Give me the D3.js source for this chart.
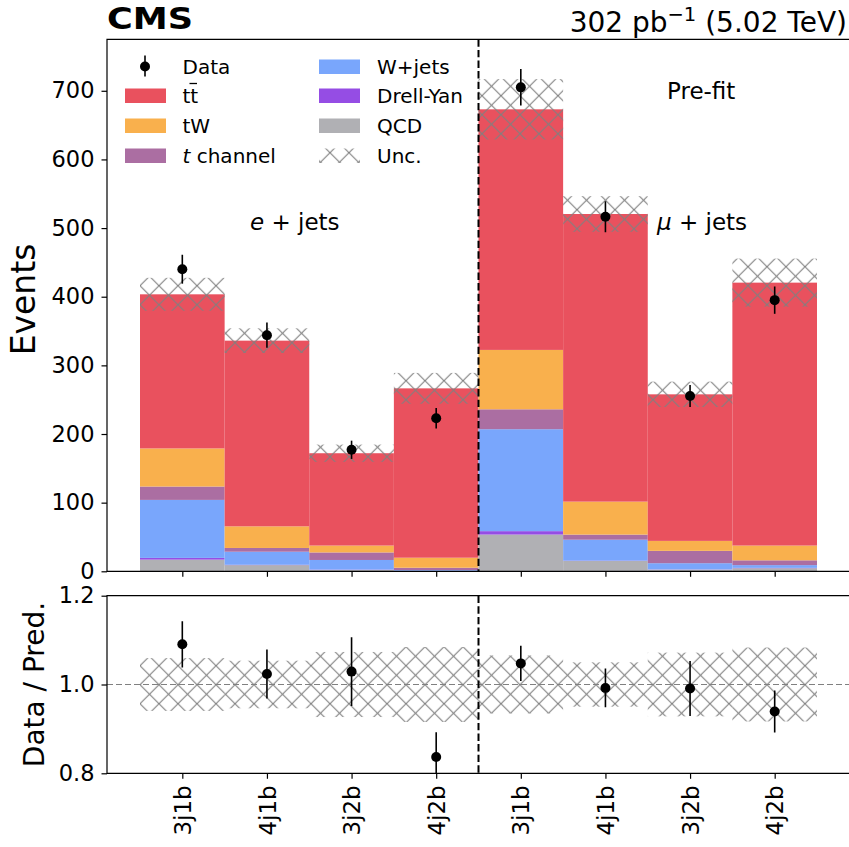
<!DOCTYPE html>
<html>
<head>
<meta charset="utf-8">
<script src="https://cdn.jsdelivr.net/npm/d3@7"></script>
<style>
  body { margin: 0; background: #fff; }
  text { font-family: "DejaVu Sans", sans-serif; fill: #000; }
</style>
</head>
<body>
<svg id="chart" width="849" height="847"></svg>
<script>
// bins (e+jets then mu+jets)
const categories = ["3j1b", "4j1b", "3j2b", "4j2b", "3j1b", "4j1b", "3j2b", "4j2b"];

// process yields, stacked bottom -> top
const qcd   = [17, 9, 2, 0.7, 53.5, 15, 2.5, 4.5];
const dy    = [2.5, 0.5, 0.5, 0.2, 5, 0.5, 0.3, 0.5];
const wjets = [84.5, 19, 14, 1, 148.5, 30.5, 9, 4];
const tchan = [19.5, 5.5, 11, 3.3, 29, 7.5, 18, 7];
const tw    = [55.5, 31.5, 10, 14.6, 86.5, 48, 14.5, 21.5];
const ttbar = [224.5, 270.5, 134.5, 246.7, 350.5, 419, 213.5, 383];

// observed data and its errors
const data    = [440, 344, 177, 223, 705, 516.5, 255.5, 395];
const dataErr = [21, 18.5, 13.3, 14.9, 26.6, 22.7, 16, 19.9];

// total prediction uncertainty (absolute)
const unc = [24, 18, 12.6, 22.5, 44, 26, 18.5, 35];

const yTicks = [0, 100, 200, 300, 400, 500, 600, 700];
const rTicks = [0.8, 1.0, 1.2];

const processes = [
  { name: "QCD",        vals: qcd,   color: "#b0b0b4" },
  { name: "Drell-Yan",  vals: dy,    color: "#954de4" },
  { name: "W+jets",     vals: wjets, color: "#79a6fc" },
  { name: "t channel",  vals: tchan, color: "#ab6ea2" },
  { name: "tW",         vals: tw,    color: "#f9b04d" },
  { name: "ttbar",      vals: ttbar, color: "#e9515e" }
];

const svg = d3.select("#chart");
const L = 107, R = 851;
const mainTop = 39.3, mainBot = 571.3;
const ratTop = 595.7, ratBot = 773.3;

const x = d3.scaleLinear().domain([0, 8]).range([140, 817]);
const y = d3.scaleLinear().domain([0, 775]).range([mainBot, mainTop]);
const yr = d3.scaleLinear().domain([0.8, 1.2]).range([ratBot, ratTop]);

// hatch pattern
const defs = svg.append("defs");
const pat = defs.append("pattern")
  .attr("id", "hatch")
  .attr("patternUnits", "userSpaceOnUse")
  .attr("width", 19).attr("height", 19)
  .attr("x", 140).attr("y", 285.7);
pat.append("path")
  .attr("d", "M0,0L19,19M0,19L19,0M-2,17L2,21M17,-2L21,2M-2,2L2,-2M17,21L21,17")
  .attr("stroke", "#808080").attr("stroke-width", 1.1).attr("fill", "none");

defs.append("clipPath").attr("id", "clipMain")
  .append("rect").attr("x", L).attr("y", mainTop).attr("width", R - L).attr("height", mainBot - mainTop);
defs.append("clipPath").attr("id", "clipRat")
  .append("rect").attr("x", L).attr("y", ratTop).attr("width", R - L).attr("height", ratBot - ratTop);

// ---------- main panel ----------
const gMain = svg.append("g").attr("clip-path", "url(#clipMain)");

const total = categories.map((c, i) => d3.sum(processes, p => p.vals[i]));

categories.forEach((c, i) => {
  let base = 0;
  processes.forEach(p => {
    const v = p.vals[i];
    gMain.append("rect")
      .attr("x", x(i)).attr("width", x(i + 1) - x(i))
      .attr("y", y(base + v)).attr("height", y(base) - y(base + v))
      .attr("fill", p.color);
    base += v;
  });
});

// uncertainty band
gMain.selectAll("rect.unc")
  .data(categories)
  .join("rect")
  .attr("class", "unc")
  .attr("x", (d, i) => x(i)).attr("width", (d, i) => x(i + 1) - x(i))
  .attr("y", (d, i) => y(total[i] + unc[i]))
  .attr("height", (d, i) => y(total[i] - unc[i]) - y(total[i] + unc[i]))
  .attr("fill", "url(#hatch)");

// data points
categories.forEach((c, i) => {
  const cx = x(i + 0.5);
  gMain.append("line")
    .attr("x1", cx).attr("x2", cx)
    .attr("y1", y(data[i] - dataErr[i])).attr("y2", y(data[i] + dataErr[i]))
    .attr("stroke", "#000").attr("stroke-width", 1.6);
  gMain.append("circle").attr("cx", cx).attr("cy", y(data[i])).attr("r", 5).attr("fill", "#000");
});

// divider
svg.append("line")
  .attr("x1", x(4)).attr("x2", x(4)).attr("y1", mainTop).attr("y2", mainBot)
  .attr("stroke", "#000").attr("stroke-width", 2).attr("stroke-dasharray", "7.4,3.2");

// frame + axes
svg.append("path")
  .attr("d", `M${R},${mainTop}H${L}V${mainBot}H${R}`)
  .attr("fill", "none").attr("stroke", "#000").attr("stroke-width", 1.2);

const yAxis = svg.append("g")
  .attr("transform", `translate(${L},0)`)
  .call(d3.axisLeft(y).tickValues(yTicks).tickSize(5.5).tickPadding(7));
yAxis.select(".domain").remove();
yAxis.selectAll("text").style("font-size", "22.5px").style("font-family", "DejaVu Sans");
yAxis.selectAll("line").attr("stroke-width", 1.2);

const xAxisMain = svg.append("g")
  .attr("transform", `translate(0,${mainBot})`)
  .call(d3.axisBottom(x).tickValues(categories.map((c, i) => i + 0.5)).tickSize(5.5).tickFormat(""));
xAxisMain.select(".domain").remove();
xAxisMain.selectAll("line").attr("stroke-width", 1.2);

// text labels
svg.append("text").attr("x", L).attr("y", 29)
  .attr("textLength", 86).attr("lengthAdjust", "spacingAndGlyphs")
  .style("font-size", "31px").style("font-weight", "bold").text("CMS");

const lumi = svg.append("text").attr("x", 847).attr("y", 31.5)
  .attr("text-anchor", "end").style("font-size", "28px");
lumi.append("tspan").text("302 pb");
lumi.append("tspan").attr("dy", -11).style("font-size", "19.5px").text("\u22121");
lumi.append("tspan").attr("dy", 11).text(" (5.02 TeV)");

svg.append("text").attr("x", 667).attr("y", 99).style("font-size", "23px").text("Pre-fit");

const eLab = svg.append("text").attr("x", 250).attr("y", 230).style("font-size", "23px");
eLab.append("tspan").style("font-style", "italic").text("e");
eLab.append("tspan").text(" + jets");
const mLab = svg.append("text").attr("x", 657).attr("y", 230).style("font-size", "23px");
mLab.append("tspan").style("font-style", "italic").text("\u03bc");
mLab.append("tspan").text(" + jets");

svg.append("text")
  .attr("transform", "translate(35,299.5) rotate(-90)")
  .attr("text-anchor", "middle").style("font-size", "33px").text("Events");

// legend
const legend = svg.append("g");
const leg1 = [
  { label: "Data", kind: "data" },
  { label: "tt", kind: "ttbar", color: "#e9515e" },
  { label: "tW", color: "#f9b04d" },
  { label: "t channel", kind: "tch", color: "#ab6ea2" }
];
const leg2 = [
  { label: "W+jets", color: "#79a6fc" },
  { label: "Drell-Yan", color: "#954de4" },
  { label: "QCD", color: "#b0b0b4" },
  { label: "Unc.", kind: "unc" }
];
const rowY = [66.5, 95.5, 125.5, 155.5];

function drawLegendCol(items, px, tx) {
  items.forEach((it, k) => {
    const cy = rowY[k];
    if (it.kind === "data") {
      legend.append("line").attr("x1", px + 20).attr("x2", px + 20)
        .attr("y1", cy - 11).attr("y2", cy + 10).attr("stroke", "#000").attr("stroke-width", 1.6);
      legend.append("circle").attr("cx", px + 20).attr("cy", cy).attr("r", 5).attr("fill", "#000");
    } else if (it.kind === "unc") {
      legend.append("rect").attr("x", px).attr("y", cy - 7).attr("width", 41).attr("height", 14.5)
        .attr("fill", "url(#hatch)");
    } else {
      legend.append("rect").attr("x", px).attr("y", cy - 7).attr("width", 41).attr("height", 14.5)
        .attr("fill", it.color);
    }
    const t = legend.append("text").attr("x", tx).attr("y", cy + 7).style("font-size", "20px");
    if (it.kind === "ttbar") {
      t.append("tspan").text("t");
      t.append("tspan").text("t");
      legend.append("line").attr("x1", tx + 7).attr("x2", tx + 14.5)
        .attr("y1", cy - 12).attr("y2", cy - 12).attr("stroke", "#000").attr("stroke-width", 1.3);
    } else if (it.kind === "tch") {
      t.append("tspan").style("font-style", "italic").text("t");
      t.append("tspan").text(" channel");
    } else {
      t.text(it.label);
    }
  });
}
drawLegendCol(leg1, 125, 182.5);
drawLegendCol(leg2, 319, 377);

// ---------- ratio panel ----------
const gRat = svg.append("g").attr("clip-path", "url(#clipRat)");

gRat.selectAll("rect.runc")
  .data(categories)
  .join("rect")
  .attr("x", (d, i) => x(i)).attr("width", (d, i) => x(i + 1) - x(i))
  .attr("y", (d, i) => yr(1 + unc[i] / total[i]))
  .attr("height", (d, i) => yr(1 - unc[i] / total[i]) - yr(1 + unc[i] / total[i]))
  .attr("fill", "url(#hatch)");

gRat.append("line")
  .attr("x1", L).attr("x2", R).attr("y1", yr(1)).attr("y2", yr(1))
  .attr("stroke", "#808080").attr("stroke-width", 1.2).attr("stroke-dasharray", "6,3");

categories.forEach((c, i) => {
  const cx = x(i + 0.5);
  const r = data[i] / total[i];
  const e = dataErr[i] / total[i];
  gRat.append("line")
    .attr("x1", cx).attr("x2", cx).attr("y1", yr(r - e)).attr("y2", yr(r + e))
    .attr("stroke", "#000").attr("stroke-width", 1.6);
  gRat.append("circle").attr("cx", cx).attr("cy", yr(r)).attr("r", 5).attr("fill", "#000");
});

svg.append("line")
  .attr("x1", x(4)).attr("x2", x(4)).attr("y1", ratTop).attr("y2", ratBot)
  .attr("stroke", "#000").attr("stroke-width", 2).attr("stroke-dasharray", "7.4,3.2");

svg.append("path")
  .attr("d", `M${R},${ratTop}H${L}V${ratBot}H${R}`)
  .attr("fill", "none").attr("stroke", "#000").attr("stroke-width", 1.2);

const rAxis = svg.append("g")
  .attr("transform", `translate(${L},0)`)
  .call(d3.axisLeft(yr).tickValues(rTicks).tickSize(5.5).tickPadding(7).tickFormat(d3.format(".1f")));
rAxis.select(".domain").remove();
rAxis.selectAll("text").style("font-size", "22.5px").style("font-family", "DejaVu Sans");
rAxis.selectAll("line").attr("stroke-width", 1.2);

const xAxis = svg.append("g")
  .attr("transform", `translate(0,${ratBot})`)
  .call(d3.axisBottom(x).tickValues(categories.map((c, i) => i + 0.5)).tickSize(5.5)
    .tickFormat((d, i) => categories[i]));
xAxis.select(".domain").remove();
xAxis.selectAll("line").attr("stroke-width", 1.2);
xAxis.selectAll("text")
  .style("font-size", "23px").style("font-family", "DejaVu Sans")
  .attr("text-anchor", "end")
  .attr("transform", "rotate(-90)")
  .attr("x", -12).attr("y", 0).attr("dy", "0.35em");

svg.append("text")
  .attr("transform", `translate(44,${yr(1)}) rotate(-90)`)
  .attr("text-anchor", "middle").style("font-size", "28px").text("Data / Pred.");
</script>
</body>
</html>
